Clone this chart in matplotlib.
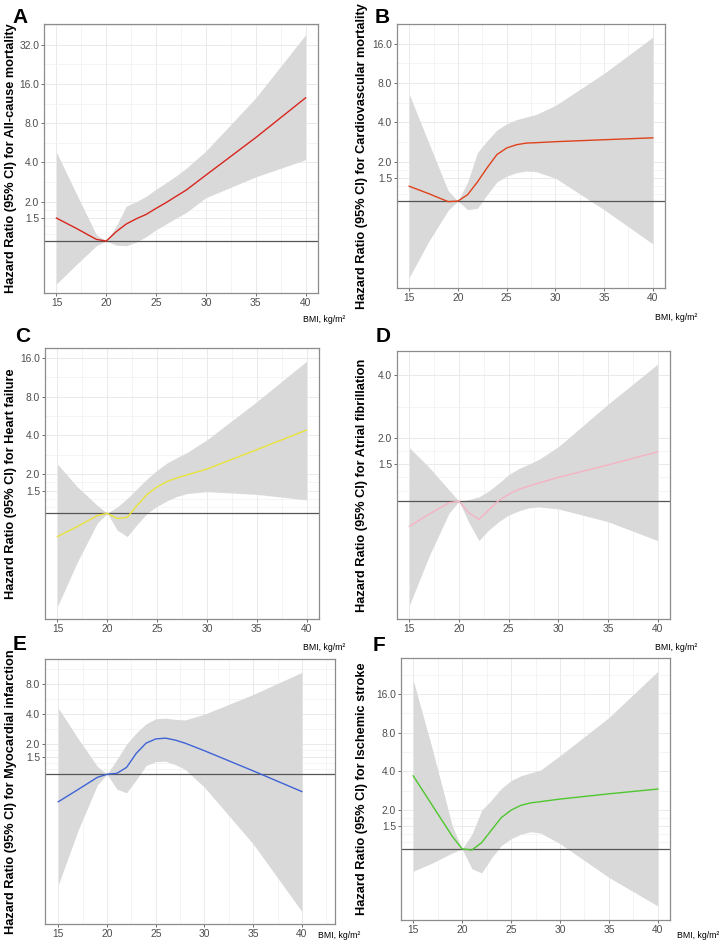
import numpy as np
import matplotlib
matplotlib.use('Agg')
import matplotlib.pyplot as plt
from matplotlib.ticker import FixedLocator, NullFormatter

plt.rcParams['font.family'] = ['Liberation Sans', 'DejaVu Sans']

bmi = [15, 17, 19, 20, 21, 22, 23, 24, 25, 26, 27, 28, 30, 35, 40]

# A: all-cause mortality
hr_a = [1.5, 1.25, 1.03, 1.0, 1.18, 1.35, 1.48, 1.6, 1.78, 1.97, 2.2, 2.45, 3.2, 6.2, 12.5]
lo_a = [0.47, 0.66, 0.92, 1.0, 0.93, 0.92, 0.98, 1.08, 1.22, 1.35, 1.5, 1.65, 2.15, 3.1, 4.2]
hi_a = [4.8, 2.3, 1.12, 1.0, 1.3, 1.85, 2.0, 2.2, 2.5, 2.8, 3.15, 3.6, 4.9, 12.5, 38]

# B: cardiovascular mortality
hr_b = [1.3, 1.14, 0.99, 1.0, 1.12, 1.4, 1.8, 2.27, 2.55, 2.7, 2.78, 2.8, 2.85, 2.95, 3.05]
lo_b = [0.26, 0.49, 0.85, 1.0, 0.86, 0.88, 1.12, 1.4, 1.55, 1.65, 1.7, 1.68, 1.5, 0.86, 0.47]
hi_b = [6.6, 2.8, 1.2, 1.0, 1.4, 2.35, 2.9, 3.5, 3.9, 4.2, 4.4, 4.6, 5.4, 9.5, 18]

# C: heart failure
hr_c = [0.66, 0.79, 0.96, 1.0, 0.91, 0.93, 1.15, 1.4, 1.6, 1.76, 1.88, 1.98, 2.2, 3.1, 4.4]
lo_c = [0.19, 0.42, 0.84, 1.0, 0.74, 0.66, 0.82, 1.0, 1.13, 1.25, 1.35, 1.42, 1.47, 1.4, 1.27]
hi_c = [2.4, 1.6, 1.15, 1.0, 1.12, 1.3, 1.55, 1.85, 2.15, 2.45, 2.7, 2.95, 3.7, 7.3, 15]

# D: atrial fibrillation
hr_d = [0.76, 0.87, 0.985, 1.0, 0.88, 0.82, 0.91, 1.01, 1.08, 1.14, 1.18, 1.22, 1.3, 1.49, 1.72]
lo_d = [0.32, 0.55, 0.88, 1.0, 0.79, 0.65, 0.73, 0.8, 0.86, 0.9, 0.93, 0.94, 0.92, 0.8, 0.65]
hi_d = [1.8, 1.45, 1.13, 1.0, 1.02, 1.05, 1.12, 1.22, 1.34, 1.43, 1.5, 1.58, 1.82, 2.9, 4.5]

# E: myocardial infarction
hr_e = [0.53, 0.7, 0.93, 1.0, 1.02, 1.17, 1.62, 2.05, 2.26, 2.3, 2.2, 2.05, 1.72, 1.08, 0.67]
lo_e = [0.078, 0.27, 0.78, 1.0, 0.71, 0.65, 0.88, 1.22, 1.34, 1.35, 1.25, 1.12, 0.74, 0.2, 0.042]
hi_e = [4.6, 2.3, 1.2, 1.0, 1.4, 2.0, 2.6, 3.2, 3.6, 3.65, 3.55, 3.5, 4.0, 6.3, 10.5]

# F: ischemic stroke
hr_f = [3.7, 2.15, 1.25, 1.0, 0.98, 1.12, 1.4, 1.75, 2.0, 2.18, 2.28, 2.33, 2.44, 2.68, 2.92]
lo_f = [0.67, 0.78, 0.93, 1.0, 0.7, 0.65, 0.85, 1.06, 1.2, 1.3, 1.36, 1.33, 1.1, 0.6, 0.36]
hi_f = [20.5, 5.8, 1.5, 1.0, 1.3, 2.0, 2.4, 2.95, 3.4, 3.7, 3.9, 4.1, 5.3, 10.5, 24]

x_ticks = [15, 20, 25, 30, 35, 40]
outcomes = ['All-cause mortality', 'Cardiovascular mortality', 'Heart failure',
            'Atrial fibrillation', 'Myocardial infarction', 'Ischemic stroke']
letters = ['A', 'B', 'C', 'D', 'E', 'F']
y_ticks = [[1.5, 2, 4, 8, 16, 32], [1.5, 2, 4, 8, 16], [1.5, 2, 4, 8, 16],
           [1.5, 2, 4], [1.5, 2, 4, 8], [1.5, 2, 4, 8, 16]]

series = [(hr_a, lo_a, hi_a), (hr_b, lo_b, hi_b), (hr_c, lo_c, hi_c),
          (hr_d, lo_d, hi_d), (hr_e, lo_e, hi_e), (hr_f, lo_f, hi_f)]
colors = ['#D8261E', '#E0421A', '#E9E33A', '#F5B3C3', '#3F63D6', '#4EC72E']

W, H = 719, 944
# axes boxes in pixels: left, right, top, bottom
boxes = [(44, 318, 24, 293), (397, 665, 24, 288),
         (45, 319, 348, 619), (397, 670, 351, 619),
         (45, 335, 659, 924), (401, 670, 658, 920)]
ylims = [(0.40, 46), (0.216, 22.7), (0.152, 19), (0.275, 5.2), (0.0315, 14.3), (0.28, 30.5)]
xlims = [(13.75, 41.25)] * 4 + [(13.63, 43.4), (13.75, 41.25)]
# letter (x, y) and x-label (x, y, ha) in pixels
letter_pos = [(12, 8), (375, 8), (15, 327), (376, 327), (13, 635), (373, 636)]
xlab_pos = [(345, 320, 'right'), (697, 318, 'right'), (345, 647, 'right'),
            (697, 648, 'right'), (318, 935, 'left'), (719, 935, 'right')]
ylab_x = [11, 362, 11, 362, 11, 362]


def minor_breaks(major):
    b = np.log(np.array(major, dtype=float))
    bd = b[1] - b[0]
    b = np.concatenate([[b[0] - bd], b, [b[-1] + (b[-1] - b[-2])]])
    mids = (b[:-1] + b[1:]) / 2
    return list(np.exp(np.concatenate([b, mids])))


fig = plt.figure(figsize=(W / 100, H / 100), dpi=100)

for i in range(6):
    l, r, t, b = boxes[i]
    ax = fig.add_axes([l / W, 1 - b / H, (r - l) / W, (b - t) / H])
    hr, lo, hi = series[i]
    ax.set_axisbelow(True)
    ax.fill_between(bmi, lo, hi, color='#D9D9D9', lw=0, zorder=1)
    ax.axhline(1, color='#555555', lw=0.9, zorder=2)
    ax.plot(bmi, hr, color=colors[i], lw=1.0, zorder=3)

    ax.set_yscale('log')
    ax.yaxis.set_major_locator(FixedLocator(y_ticks[i]))
    ax.set_yticklabels(['%.1f' % v for v in y_ticks[i]])
    ax.yaxis.set_minor_locator(FixedLocator(minor_breaks(y_ticks[i])))
    ax.yaxis.set_minor_formatter(NullFormatter())
    ax.set_xticks(x_ticks)
    ax.set_xticks([12.5, 17.5, 22.5, 27.5, 32.5, 37.5, 42.5], minor=True)
    ax.set_ylim(*ylims[i])
    ax.set_xlim(*xlims[i])

    ax.grid(which='major', color='#E6E6E6', lw=0.6)
    ax.grid(which='minor', color='#F0F0F0', lw=0.5)
    ax.tick_params(which='minor', length=0)
    ax.tick_params(which='major', length=2, width=0.6, color='#555555',
                   labelsize=7.4, labelcolor='#4D4D4D', pad=1.5)
    for s in ax.spines.values():
        s.set_color('#8C8C8C')
        s.set_linewidth(0.9)

    cy = (t + b) / 2
    fig.text(ylab_x[i] / W, 1 - cy / H, 'Hazard Ratio (95% CI) for ' + outcomes[i],
             rotation=90, ha='center', va='center', fontsize=9.2, fontweight='bold')
    lx, ly = letter_pos[i]
    fig.text(lx / W, 1 - ly / H, letters[i], ha='left', va='top',
             fontsize=15, fontweight='bold')
    xx, xy, ha = xlab_pos[i]
    fig.text(xx / W, 1 - xy / H, 'BMI, kg/m²', ha=ha, va='center', fontsize=6.3)

fig.savefig('out.png', dpi=100)
